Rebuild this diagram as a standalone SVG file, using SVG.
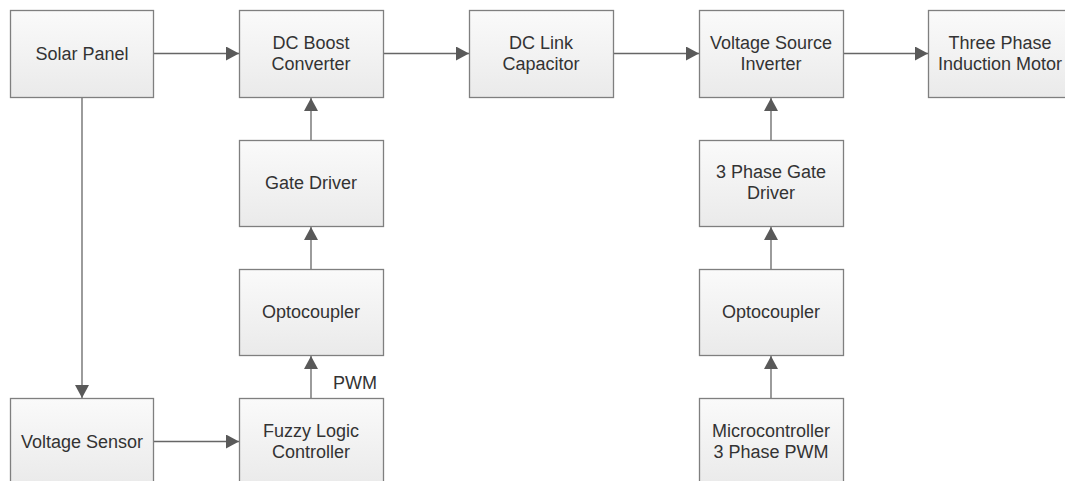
<svg xmlns="http://www.w3.org/2000/svg" width="1065" height="481" viewBox="0 0 1065 481">
<style>
.box{fill:url(#g);stroke:#7f7f7f;stroke-width:1.3}
.t{font-family:"Liberation Sans",Arial,sans-serif;font-size:18px;fill:#333;text-anchor:middle}
.c{stroke:#666;stroke-width:1.3;fill:none;marker-end:url(#a)}
</style>
<defs>
<linearGradient id="g" x1="0" y1="0" x2="0" y2="1">
<stop offset="0" stop-color="#fafafa"/>
<stop offset="1" stop-color="#eaeaea"/>
</linearGradient>
<marker id="a" markerUnits="userSpaceOnUse" markerWidth="14" markerHeight="14" refX="13" refY="7" orient="auto">
<path d="M0,0 L13,7 L0,14 z" fill="#595959"/>
</marker>
</defs>
<rect width="1065" height="481" fill="#fff"/>
<g id="connectors">
<line class="c" x1="154" y1="53.5" x2="239" y2="53.5"/>
<line class="c" x1="384" y1="53.5" x2="469" y2="53.5"/>
<line class="c" x1="614" y1="53.5" x2="699" y2="53.5"/>
<line class="c" x1="844" y1="53.5" x2="928" y2="53.5"/>
<line class="c" x1="82" y1="98" x2="82" y2="398"/>
<line class="c" x1="154" y1="441.5" x2="239" y2="441.5"/>
<line class="c" x1="311" y1="398" x2="311" y2="356"/>
<line class="c" x1="311" y1="269" x2="311" y2="227"/>
<line class="c" x1="311" y1="140" x2="311" y2="98"/>
<line class="c" x1="771" y1="398" x2="771" y2="356"/>
<line class="c" x1="771" y1="269" x2="771" y2="227"/>
<line class="c" x1="771" y1="140" x2="771" y2="98"/>
<text class="t" x="355" y="389">PWM</text>
</g>
<g id="solar"><rect class="box" x="10.5" y="10.5" width="143" height="87"/><text class="t" x="82" y="59.5">Solar Panel</text></g>
<g id="boost"><rect class="box" x="239.5" y="10.5" width="144" height="87"/><text class="t" x="311" y="48.5">DC Boost</text><text class="t" x="311" y="69.5">Converter</text></g>
<g id="link"><rect class="box" x="469.5" y="10.5" width="144" height="87"/><text class="t" x="541" y="48.5">DC Link</text><text class="t" x="541" y="69.5">Capacitor</text></g>
<g id="vsi"><rect class="box" x="699.5" y="10.5" width="144" height="87"/><text class="t" x="771" y="48.5">Voltage Source</text><text class="t" x="771" y="69.5">Inverter</text></g>
<g id="motor"><rect class="box" x="928.5" y="10.5" width="144" height="87"/><text class="t" x="1000" y="48.5">Three Phase</text><text class="t" x="1000" y="69.5">Induction Motor</text></g>
<g id="gate"><rect class="box" x="239.5" y="140.5" width="144" height="86"/><text class="t" x="311" y="189">Gate Driver</text></g>
<g id="opto1"><rect class="box" x="239.5" y="269.5" width="144" height="86"/><text class="t" x="311" y="318">Optocoupler</text></g>
<g id="fuzzy"><rect class="box" x="239.5" y="398.5" width="144" height="87"/><text class="t" x="311" y="436.5">Fuzzy Logic</text><text class="t" x="311" y="457.5">Controller</text></g>
<g id="sensor"><rect class="box" x="10.5" y="398.5" width="143" height="87"/><text class="t" x="82" y="447.5">Voltage Sensor</text></g>
<g id="gate3"><rect class="box" x="699.5" y="140.5" width="144" height="86"/><text class="t" x="771" y="177.5">3 Phase Gate</text><text class="t" x="771" y="198.5">Driver</text></g>
<g id="opto2"><rect class="box" x="699.5" y="269.5" width="144" height="86"/><text class="t" x="771" y="318">Optocoupler</text></g>
<g id="micro"><rect class="box" x="699.5" y="398.5" width="144" height="87"/><text class="t" x="771" y="436.5">Microcontroller</text><text class="t" x="771" y="457.5">3 Phase PWM</text></g>
</svg>
